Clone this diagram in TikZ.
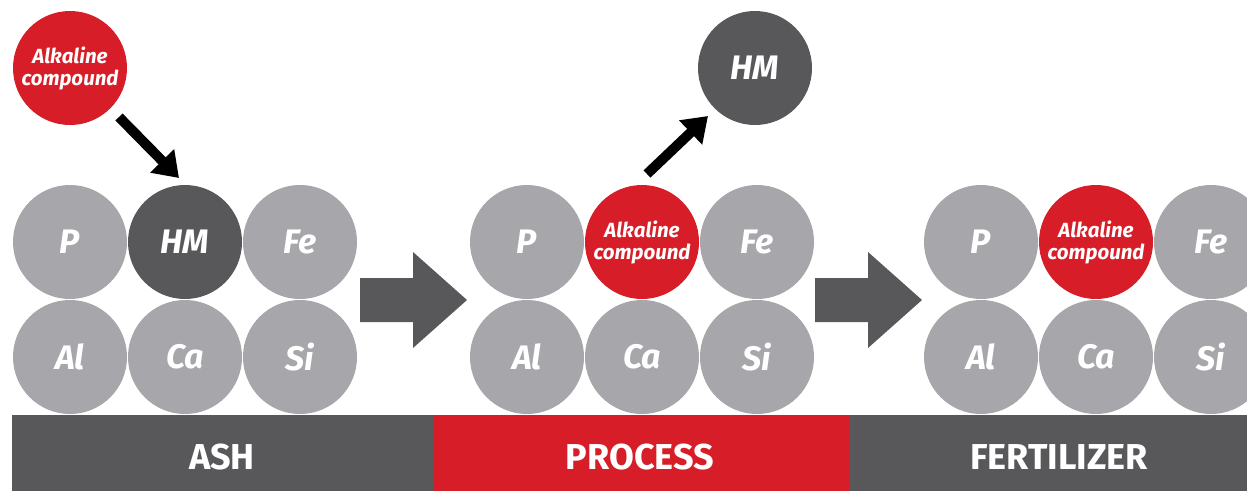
\documentclass[tikz,border=0pt]{standalone}
\usepackage{fontspec}
\setmainfont{Fira Sans}
\usetikzlibrary{arrows.meta}
\definecolor{lgray}{HTML}{A7A6AA}
\definecolor{dgray}{HTML}{58585B}
\definecolor{cred}{HTML}{D71E28}
\begin{document}
\begin{tikzpicture}[x=1pt,y=-1pt,
  atom/.style={circle,fill=lgray,minimum size=114pt,inner sep=0pt,text=white,font=\fontsize{34}{36}\selectfont\bfseries\itshape},
  hmatom/.style={atom,fill=dgray},
  alk/.style={atom,fill=cred,font=\fontsize{20.5}{22}\selectfont\bfseries\itshape,align=center},
  blackarrow/.style={line width=10pt,-{Triangle[length=24pt,width=32pt]},black},
  bigarrow/.style={fill=dgray},
  barlabel/.style={text=white,font=\fontsize{36}{38}\selectfont\bfseries}]
\useasboundingbox (0,0) rectangle (1247,493);
\fill[white] (0,0) rectangle (1247,493);
\clip (0,0) rectangle (1247,493);
% bar
\fill[dgray] (12,415) rectangle (433,491);
\fill[cred] (433,415) rectangle (849,491);
\fill[dgray] (849,415) rectangle (1260,491);
\node[barlabel] (lash) at (222,457) {ASH};
\node[barlabel] (lproc) at (640,457) {PROCESS};
\node[barlabel] (lfert) at (1059,457) {FERTILIZER};
% group 1
\node[atom] (p1) at (70,242) {P};
\node[hmatom] (hm1) at (185,242) {HM};
\node[atom] (fe1) at (300,242) {Fe};
\node[atom] (al1) at (70,357) {Al};
\node[atom] (ca1) at (185,357) {Ca};
\node[atom] (si1) at (300,357) {Si};
\node[alk] (alk0) at (70,68) {Alkaline\\compound};
% group 2
\node[atom] (p2) at (527,242) {P};
\node[alk] (alk2) at (642,242) {Alkaline\\compound};
\node[atom] (fe2) at (757,242) {Fe};
\node[atom] (al2) at (527,357) {Al};
\node[atom] (ca2) at (642,357) {Ca};
\node[atom] (si2) at (757,357) {Si};
\node[hmatom] (hm2) at (755,68) {HM};
% group 3
\node[atom] (p3) at (981,242) {P};
\node[alk] (alk3) at (1096,242) {Alkaline\\compound};
\node[atom] (fe3) at (1211,242) {Fe};
\node[atom] (al3) at (981,357) {Al};
\node[atom] (ca3) at (1096,357) {Ca};
\node[atom] (si3) at (1211,357) {Si};
% black arrows
\coordinate (a1s) at (119,117);
\coordinate (a1e) at (179,178);
\draw[blackarrow] (a1s) -- (a1e);
\coordinate (a2s) at (647,174);
\coordinate (a2e) at (708,116);
\draw[blackarrow] (a2s) -- (a2e);
% big gray arrows
\fill[bigarrow] (360,278) -- (413,278) -- (413,252) -- (467,300) -- (413,348) -- (413,322) -- (360,322) -- cycle;
\fill[bigarrow] (815,278) -- (868,278) -- (868,252) -- (922,300) -- (868,348) -- (868,322) -- (815,322) -- cycle;
\end{tikzpicture}
\end{document}
